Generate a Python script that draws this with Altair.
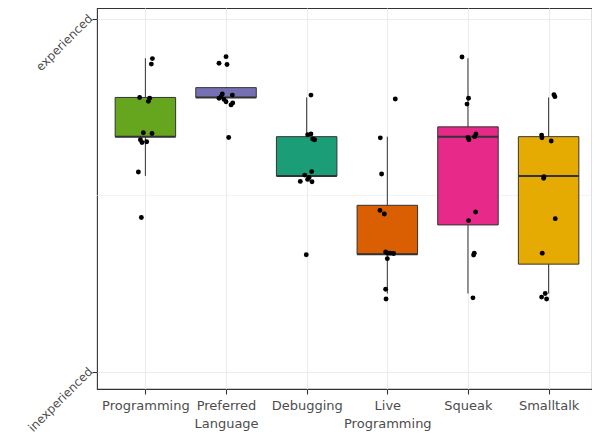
import altair as alt
import numpy as np
import pandas as pd

# ---- data ----
categories = ["Programming", "Preferred\nLanguage", "Debugging", "Live\nProgramming", "Squeak", "Smalltalk"]
box_colors = ["#66A61E", "#7570B3", "#1B9E77", "#D95F02", "#E7298A", "#E6AB02"]
y_tick_values = [0, 9]
y_tick_labels = ["inexperienced", "experienced"]

# underlying (un-jittered) ratings per category
levels_programming = [8, 8, 7, 7, 7, 6, 6, 6, 6, 6, 5, 4]
levels_preferred = [8, 8, 8, 7, 7, 7, 7, 7, 7, 7, 7, 6]
levels_debugging = [7, 6, 6, 6, 6, 5, 5, 5, 5, 5, 5, 3]
levels_live = [7, 6, 5, 4, 4, 3, 3, 3, 3, 3, 2, 2]
levels_squeak = [8, 7, 7, 6, 6, 6, 6, 4, 4, 3, 3, 2]
levels_smalltalk = [7, 7, 6, 6, 6, 5, 5, 4, 3, 2, 2, 2]

# drawn (jittered) positions of the points
y_programming = [7.99, 7.85, 7.00, 6.98, 6.90, 6.10, 6.08, 5.92, 5.85, 5.87, 5.10, 3.94]
dx_programming = [0.087, 0.074, -0.071, 0.053, 0.037, -0.025, 0.082, -0.062, -0.042, 0.016, -0.087, -0.050]
y_preferred = [8.04, 7.87, 7.84, 7.09, 6.98, 7.02, 6.95, 6.89, 7.06, 6.86, 6.81, 5.98]
dx_preferred = [0.000, -0.087, 0.012, -0.046, -0.087, -0.062, -0.025, 0.000, 0.078, 0.083, 0.062, 0.033]
y_debugging = [7.06, 6.05, 6.07, 5.94, 5.92, 5.11, 5.02, 4.91, 4.86, 4.85, 4.96, 2.99]
dx_debugging = [0.053, 0.012, 0.053, 0.074, 0.099, 0.062, -0.025, 0.012, -0.079, 0.066, 0.029, -0.005]
y_live = [6.96, 5.97, 5.05, 4.12, 4.03, 3.06, 3.03, 3.02, 2.89, 3.03, 2.11, 1.86]
dx_live = [0.099, -0.087, -0.071, -0.091, -0.037, -0.021, 0.004, 0.078, 0.000, 0.037, -0.021, -0.016]
y_squeak = [8.03, 6.98, 6.83, 5.98, 5.92, 6.00, 6.07, 4.08, 3.86, 3.03, 2.98, 1.89]
dx_squeak = [-0.074, 0.007, -0.012, 0.000, 0.012, 0.082, 0.099, 0.094, 0.007, 0.078, 0.070, 0.062]
y_smalltalk = [7.07, 7.02, 6.04, 5.97, 5.89, 4.98, 4.94, 3.91, 3.03, 1.91, 2.00, 1.86]
dx_smalltalk = [0.066, 0.078, -0.087, -0.083, 0.032, -0.058, -0.062, 0.082, -0.079, -0.087, -0.042, -0.025]

all_levels = [levels_programming, levels_preferred, levels_debugging, levels_live, levels_squeak, levels_smalltalk]
all_y = [y_programming, y_preferred, y_debugging, y_live, y_squeak, y_smalltalk]
all_dx = [dx_programming, dx_preferred, dx_debugging, dx_live, dx_squeak, dx_smalltalk]

# ---- box statistics (Tukey, 1.5 IQR) ----
box_rows = []
for i, (name, col, lv) in enumerate(zip(categories, box_colors, all_levels), start=1):
    a = np.array(lv, dtype=float)
    q1, med, q3 = np.percentile(a, [25, 50, 75])
    iqr = q3 - q1
    hi = a[a <= q3 + 1.5 * iqr].max()
    lo = a[a >= q1 - 1.5 * iqr].min()
    box_rows.append(dict(pos=i, left=i - 0.375, right=i + 0.375, q1=q1, med=med, q3=q3,
                         lo=lo, hi=hi, color=col))
boxes = pd.DataFrame(box_rows)

pt_rows = []
for i, (ys, dxs) in enumerate(zip(all_y, all_dx), start=1):
    for y, dx in zip(ys, dxs):
        pt_rows.append(dict(px=i + dx, py=y))
points = pd.DataFrame(pt_rows)

# ---- axes ----
def js_label(s):
    parts = s.split("\n")
    if len(parts) == 1:
        return "'" + parts[0] + "'"
    return "[" + ", ".join("'" + p + "'" for p in parts) + "]"

x_expr = ""
for i, c in enumerate(categories, start=1):
    x_expr += f"datum.value == {i} ? {js_label(c)} : "
x_expr += "''"
y_expr = f"datum.value == {y_tick_values[1]} ? '{y_tick_labels[1]}' : '{y_tick_labels[0]}'"

x_scale = alt.Scale(domain=[0.4, 6.538], nice=False, zero=False)
y_scale = alt.Scale(domain=[-0.4334, 9.2805], nice=False, zero=False)

x_axis = alt.Axis(values=list(range(1, len(categories) + 1)), labelExpr=x_expr, title=None,
                  grid=True, gridColor="#EBEBEB", gridWidth=1.1, domain=False,
                  tickColor="#333333", tickSize=5, tickWidth=1.1,
                  labelColor="#4D4D4D", labelFontSize=13, labelFont="DejaVu Sans",
                  labelPadding=5, labelLineHeight=18, labelAngle=0, labelAlign="center",
                  labelBaseline="top")
y_axis = alt.Axis(values=y_tick_values, labelExpr=y_expr, title=None,
                  grid=True, gridColor="#EBEBEB", gridWidth=1.1, domain=False,
                  tickColor="#333333", tickSize=5, tickWidth=1.1,
                  labelColor="#4D4D4D", labelFontSize=12, labelFont="DejaVu Sans",
                  labelPadding=2, labelOffset=-3, labelAngle=-45, labelAlign="right",
                  labelBaseline="middle")

base = alt.Chart(boxes)

minor = alt.Chart(pd.DataFrame({"v": [4.5]})).mark_rule(color="#EBEBEB", strokeWidth=0.6).encode(
    y=alt.Y("v:Q", scale=y_scale, axis=y_axis),
    x=alt.value(0), x2=alt.value(495),
)

whisk_up = base.mark_rule(color="#333333", strokeWidth=1).encode(
    x=alt.X("pos:Q", scale=x_scale, axis=x_axis),
    y=alt.Y("q3:Q", scale=y_scale),
    y2="hi:Q",
)
whisk_lo = base.mark_rule(color="#333333", strokeWidth=1).encode(
    x=alt.X("pos:Q", scale=x_scale),
    y=alt.Y("q1:Q", scale=y_scale),
    y2="lo:Q",
)
box = base.mark_bar(stroke="#333333", strokeWidth=1).encode(
    x=alt.X("left:Q", scale=x_scale),
    x2="right:Q",
    y=alt.Y("q1:Q", scale=y_scale),
    y2="q3:Q",
    fill=alt.Fill("color:N", scale=None),
)
median = base.mark_rule(color="#333333", strokeWidth=2).encode(
    x=alt.X("left:Q", scale=x_scale),
    x2="right:Q",
    y=alt.Y("med:Q", scale=y_scale),
)
pts = alt.Chart(points).mark_circle(color="black", opacity=1, size=24).encode(
    x=alt.X("px:Q", scale=x_scale),
    y=alt.Y("py:Q", scale=y_scale),
)

chart = alt.layer(minor, whisk_up, whisk_lo, box, median, pts).properties(
    width=495, height=381,
    background="white",
    autosize=alt.AutoSizeParams(type="none"),
    padding={"left": 89, "top": 0, "right": 0, "bottom": 45},
).configure_view(stroke="#333333", strokeWidth=1.1)

chart.save("out.html", embed_options={"renderer": "svg", "actions": False})
